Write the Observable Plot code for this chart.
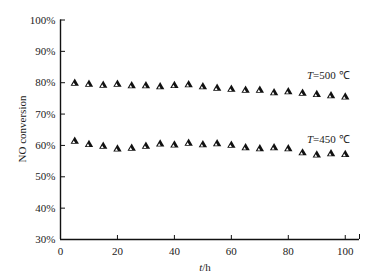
<!DOCTYPE html>
<html>
<head>
<meta charset="utf-8">
<script src="https://cdn.jsdelivr.net/npm/d3@7"></script>
<script src="https://cdn.jsdelivr.net/npm/@observablehq/plot@0.6"></script>
<style>
  html, body { margin: 0; padding: 0; background: #fff; }
  svg { display: block; }
</style>
</head>
<body>
<div id="chart"></div>
<script>
const hours = [5,10,15,20,25,30,35,40,45,50,55,60,65,70,75,80,85,90,95,100];
const conv500 = [79.8,79.5,79.2,79.5,79.0,79.0,78.7,79.1,79.3,78.7,78.2,77.9,77.6,77.6,76.8,77.1,76.6,76.2,75.8,75.4];
const conv450 = [61.3,60.3,59.7,58.8,59.1,59.7,60.4,60.1,60.7,60.2,60.5,60.0,59.2,58.9,59.2,58.9,57.6,56.9,57.3,57.1];
const xTicks = [0,20,40,60,80,100];
const yTicks = [30,40,50,60,70,80,90,100];
const seriesLabels = [
  {t: 101.5, v: 82.3, temp: "500"},
  {t: 101.5, v: 61.9, temp: "450"}
];

const data = [
  ...hours.map((h, i) => ({h, v: conv500[i], s: "500"})),
  ...hours.map((h, i) => ({h, v: conv450[i], s: "450"}))
];

const font = "'Liberation Serif', 'Times New Roman', serif";

const chart = Plot.plot({
  width: 392,
  height: 280,
  marginLeft: 60,
  marginRight: 33,
  marginTop: 19.5,
  marginBottom: 41,
  style: {fontFamily: font, fontSize: "11px", color: "#222", background: "#fff"},
  x: {domain: [0, 105]},
  y: {domain: [30, 100]},
  marks: [
    Plot.axisX({ticks: xTicks, tickSize: -4, tickPadding: 12, tickFormat: d => d, fontSize: 11, label: null, stroke: "#111"}),
    Plot.axisX({ticks: [105], tickSize: -5, tickFormat: () => "", label: null, stroke: "#111"}),
    Plot.axisY({ticks: yTicks, tickSize: -5, tickPadding: 10, tickFormat: d => d + "%", fontSize: 11, label: null, stroke: "#111"}),
    Plot.ruleY([30], {stroke: "#111", strokeWidth: 1.4}),
    Plot.ruleX([0], {stroke: "#111", strokeWidth: 1.4}),
    Plot.dot(data, {x: "h", y: "v", symbol: "triangle", r: 3.1, fill: "#111", stroke: "none"}),
    Plot.dot(data, {x: "h", y: "v", symbol: "triangle", r: 1.1, fill: "#fff", stroke: "none", dx: -1, dy: 0.8}),
    Plot.text(seriesLabels, {
      x: "t", y: "v", textAnchor: "end", fontSize: 11, fill: "#222",
      text: d => "T=" + d.temp + " ℃"
    })
  ]
});

// Italicise the "T" in the series labels and add axis titles
const svg = d3.select(chart);
svg.selectAll("text").each(function() {
  const el = d3.select(this);
  const txt = el.text();
  if (/^T=\d+/.test(txt)) {
    el.text(null);
    el.append("tspan").attr("font-style", "italic").text("T");
    el.append("tspan").text(txt.slice(1));
  }
});
svg.append("text")
  .attr("transform", "translate(23,129) rotate(-90)")
  .attr("text-anchor", "middle")
  .attr("dominant-baseline", "middle")
  .attr("font-family", font)
  .attr("font-size", 11)
  .attr("fill", "#222")
  .text("NO conversion");
const xTitle = svg.append("text")
  .attr("x", 205).attr("y", 268)
  .attr("text-anchor", "middle")
  .attr("dominant-baseline", "middle")
  .attr("font-family", font)
  .attr("font-size", 11)
  .attr("fill", "#222");
xTitle.append("tspan").attr("font-style", "italic").text("t");
xTitle.append("tspan").text("/h");

document.getElementById("chart").appendChild(chart);
</script>
</body>
</html>
